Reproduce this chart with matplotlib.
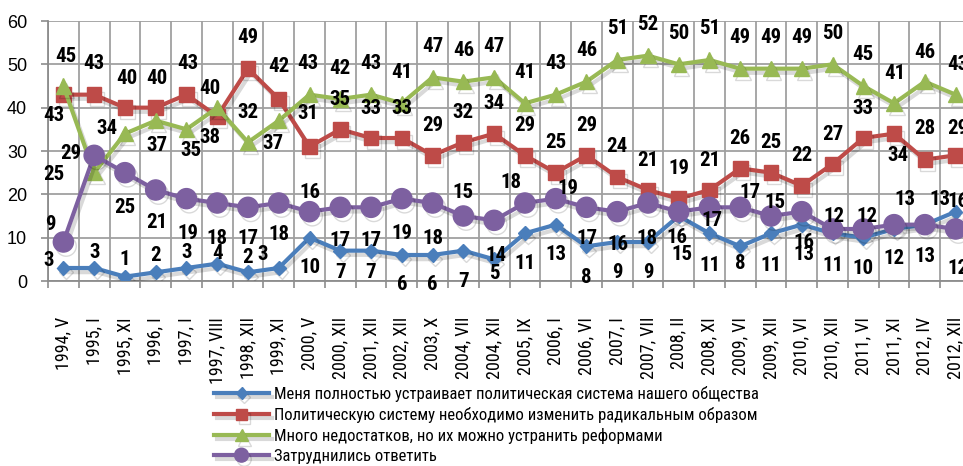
import matplotlib
matplotlib.use('Agg')
import matplotlib.pyplot as plt
import matplotlib.patheffects as pe

narrow = ['Roboto Condensed', 'Liberation Sans', 'DejaVu Sans']
plt.rcParams['font.family'] = ['Liberation Sans', 'DejaVu Sans']

periods = ['1994, V', '1995, I', '1995, XI', '1996, I', '1997, I', '1997, VIII',
           '1998, XII', '1999, XI', '2000, V', '2000, XII', '2001, XII', '2002, XII',
           '2003, X', '2004, VII', '2004, XII', '2005, IX', '2006, I', '2006, VI',
           '2007, I', '2007, VII', '2008, II', '2008, XI', '2009, VI', '2009, XII',
           '2010, VI', '2010, XII', '2011, VI', '2011, XI', '2012, IV', '2012, XII']

satisfied = [3, 3, 1, 2, 3, 4, 2, 3, 10, 7, 7, 6, 6, 7, 5, 11, 13, 8, 9, 9,
             15, 11, 8, 11, 13, 11, 10, 12, 13, 16]
radical = [43, 43, 40, 40, 43, 38, 49, 42, 31, 35, 33, 33, 29, 32, 34, 29, 25, 29, 24, 21,
           19, 21, 26, 25, 22, 27, 33, 34, 28, 29]
reforms = [45, 25, 34, 37, 35, 40, 32, 37, 43, 42, 43, 41, 47, 46, 47, 41, 43, 46, 51, 52,
           50, 51, 49, 49, 49, 50, 45, 41, 46, 43]
no_answer = [9, 29, 25, 21, 19, 18, 17, 18, 16, 17, 17, 19, 18, 15, 14, 18, 19, 17, 16, 18,
             16, 17, 17, 15, 16, 12, 12, 13, 13, 12]

legend_labels = ['Меня полностью устраивает политическая система нашего общества',
                 'Политическую систему необходимо изменить радикальным образом',
                 'Много недостатков, но их можно устранить реформами',
                 'Затруднились ответить']

# смещения подписей (dx, dy) в пикселях, dy вниз положительный
off_sat = [(-15, -8), (0, -15), (0, -17), (0, -17), (0, -15), (0, -10), (0, -15), (-16, -13),
           (0, 30), (0, 22), (0, 22), (0, 30), (0, 30), (0, 31), (0, 14), (0, 30), (0, 30),
           (0, 31), (0, 30), (0, 31), (3, 39), (0, 32), (0, 17), (0, 32), (2, 30), (0, 32),
           (0, 31), (0, 29), (0, 32), (2, -10)]
off_rad = [(-10, 21), (0, -31), (2, -29), (1, -29), (1, -31), (-7, 21), (0, -31), (0, -32),
           (-2, -33)] + [(0, -30)] * 18 + [(4, 22), (0, -31), (2, -27)]
off_ref = [(2, -30), (-40, 2), (-18, -5), (1, 25), (4, 21), (-7, -19), (0, -30), (-6, 23),
           (-2, -31)] + [(0, -31)] * 18 + [(1, -30), (0, -29), (2, -30)]
off_na = [(-13, -17), (-23, -2), (0, 35), (1, 33), (1, 35), (0, 35), (0, 31), (0, 32),
          (0, -19), (0, 33), (0, 33), (0, 35), (0, 35), (0, -23), (2, 35), (-14, -20),
          (12, -10), (1, 31), (1, 33), (-1, 35), (-2, 26), (3, 13), (10, -15), (4, -14),
          (2, 31), (1, -12), (4, -12), (11, -25), (15, -25), (2, 40)]

series = [(satisfied, '#4A7EBB', 'D', 7, off_sat),
          (radical, '#BE4B48', 's', 10.5, off_rad),
          (reforms, '#98B954', '^', 11, off_ref),
          (no_answer, '#7D60A0', 'o', 14.5, off_na)]

fig = plt.figure(figsize=(9.63, 4.66), dpi=100)
ax = fig.add_axes([48 / 963, 1 - 281 / 466, 923 / 963, 260 / 466])

x = list(range(len(periods)))
shadow = [pe.SimpleLineShadow(offset=(2, -3), shadow_color='k', alpha=0.15), pe.Normal()]
handles = []
for k, (vals, col, mk, ms, offs) in enumerate(series):
    ln, = ax.plot(x, vals, color=col, lw=3, marker=mk, markersize=ms,
                  markerfacecolor=col, markeredgecolor=col, zorder=3 + k,
                  path_effects=shadow, solid_joinstyle='miter')
    handles.append(ln)
    for i, v in enumerate(vals):
        dx, dy = offs[i]
        ax.annotate(str(v), (i, v), xytext=(dx, -dy), textcoords='offset pixels',
                    ha='center', va='center', fontsize=15, fontweight='bold',
                    family=narrow, color='black', zorder=10, annotation_clip=False)

ax.set_xlim(-0.5, len(periods) - 0.5)
ax.set_ylim(0, 60)
ax.set_yticks(range(0, 61, 10))
ax.set_xticks(x)
ax.set_xticklabels(periods, rotation=90, fontsize=13, family=narrow)
ax.set_xticks([i - 0.5 for i in range(len(periods) + 1)], minor=True)
ax.tick_params(axis='x', which='major', length=0, pad=26)
ax.tick_params(axis='x', which='minor', length=5, color='#8c8c8c', width=1.2)
ax.tick_params(axis='y', length=5, color='#8c8c8c', width=1.2, labelsize=13, pad=10)
ax.grid(True, axis='y', color='#a0a0a0', lw=1.3)
ax.grid(True, axis='x', which='minor', color='#a0a0a0', lw=1.3)
ax.set_axisbelow(True)
for s in ['top', 'right']:
    ax.spines[s].set_visible(False)
for s in ['left', 'bottom']:
    ax.spines[s].set_color('#8c8c8c')
    ax.spines[s].set_linewidth(1.3)

leg = fig.legend(handles, legend_labels, loc='upper left', bbox_to_anchor=(214 / 963, 1 - 386 / 466),
                 frameon=False, borderpad=0, borderaxespad=0, handlelength=3.3, handletextpad=0.3,
                 labelspacing=0.3, prop={'family': narrow, 'size': 12})
for h, ms in zip(leg.legend_handles, [6, 8, 9, 10]):
    h.set_markersize(ms)

plt.savefig('out.png', dpi=100)
